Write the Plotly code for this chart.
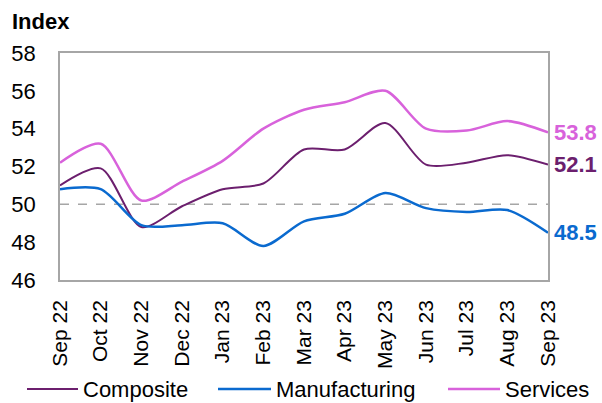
import plotly.graph_objs as go

months = ["Sep 22", "Oct 22", "Nov 22", "Dec 22", "Jan 23", "Feb 23", "Mar 23",
          "Apr 23", "May 23", "Jun 23", "Jul 23", "Aug 23", "Sep 23"]
composite = [51.0, 51.9, 48.8, 49.9, 50.8, 51.1, 52.9, 52.9, 54.3, 52.1, 52.2, 52.6, 52.1]
manufacturing = [50.8, 50.8, 48.9, 48.9, 49.0, 47.8, 49.1, 49.5, 50.6, 49.8, 49.6, 49.7, 48.5]
services = [52.2, 53.2, 50.2, 51.2, 52.3, 54.0, 55.0, 55.4, 56.0, 54.0, 53.9, 54.4, 53.8]

colors = {
    "Composite": "#6C1F6E",
    "Manufacturing": "#0A6ACF",
    "Services": "#D862DB",
}
widths = {"Composite": 2, "Manufacturing": 2.5, "Services": 2.5}
series = {"Composite": composite, "Manufacturing": manufacturing, "Services": services}

font = "Liberation Sans, Arial, sans-serif"

# plot area in pixels, used to place the hand-made legend below the axis
plot_l, plot_r, plot_t, plot_b = 60, 548, 53, 280
def px_x(px):
    return (px - plot_l) / (plot_r - plot_l)
def px_y(py):
    return (plot_b - py) / (plot_b - plot_t)

# legend line start/end and text start (pixels)
legend_pos = {
    "Composite": (27, 78, 83),
    "Manufacturing": (218, 271, 276),
    "Services": (448, 500, 505),
}
legend_y = 389

fig = go.Figure()
for name, values in series.items():
    fig.add_trace(
        go.Scatter(
            x = months,
            y = values,
            name = name,
            mode = "lines",
            line = {"color": colors[name], "width": widths[name], "shape": "spline", "smoothing": 0.8},
        )
    )

shapes = [{
    "type": "line",
    "xref": "paper",
    "yref": "y",
    "x0": 0,
    "x1": 1,
    "y0": 50,
    "y1": 50,
    "line": {"color": "#A6A6A6", "width": 1.5, "dash": "dash"},
    "layer": "below",
}]

annotations = [{
    "text": "<b>Index</b>",
    "showarrow": False,
    "xref": "paper",
    "yref": "paper",
    "x": -0.102,
    "y": 1.14,
    "xanchor": "left",
    "yanchor": "middle",
    "font": {"size": 22, "color": "black", "family": font},
}]
for name, values in series.items():
    annotations.append({
        "text": "<b>%.1f</b>" % values[-1],
        "showarrow": False,
        "x": months[-1],
        "y": values[-1],
        "xanchor": "left",
        "yanchor": "middle",
        "xshift": 4,
        "font": {"size": 22, "color": colors[name], "family": font},
    })
    x0, x1, xt = legend_pos[name]
    shapes.append({
        "type": "line",
        "xref": "paper",
        "yref": "paper",
        "x0": px_x(x0),
        "x1": px_x(x1),
        "y0": px_y(legend_y),
        "y1": px_y(legend_y),
        "line": {"color": colors[name], "width": widths[name]},
    })
    annotations.append({
        "text": name,
        "showarrow": False,
        "xref": "paper",
        "yref": "paper",
        "x": px_x(xt),
        "y": px_y(legend_y),
        "xanchor": "left",
        "yanchor": "middle",
        "xshift": -2,
        "font": {"size": 22, "color": "black", "family": font},
    })

fig.update_layout(
    width = 602,
    height = 403,
    paper_bgcolor = "white",
    plot_bgcolor = "white",
    font = {"family": font, "size": 21, "color": "black"},
    margin = {"l": plot_l, "r": 602 - plot_r, "t": plot_t, "b": 403 - plot_b, "pad": 0},
    xaxis = {
        "type": "category",
        "range": [0, 12],
        "automargin": False,
        "showgrid": False,
        "tickangle": -90,
        "showline": True,
        "linecolor": "#A6A6A6",
        "linewidth": 1.5,
        "mirror": True,
        "ticks": "",
        "ticklabelstandoff": 10,
        "tickfont": {"size": 21},
    },
    yaxis = {
        "range": [46, 58],
        "dtick": 2,
        "automargin": False,
        "showgrid": False,
        "zeroline": False,
        "showline": True,
        "linecolor": "#A6A6A6",
        "linewidth": 1.5,
        "mirror": True,
        "ticks": "",
        "ticklabelstandoff": 18,
        "tickfont": {"size": 22},
    },
    shapes = shapes,
    annotations = annotations,
    showlegend = False,
)

# drop the browser's default body margin so the figure fills the window
fig.write_html(
    "out.html",
    config = {"displayModeBar": False},
    post_script = "document.body.style.margin = '0';",
)
